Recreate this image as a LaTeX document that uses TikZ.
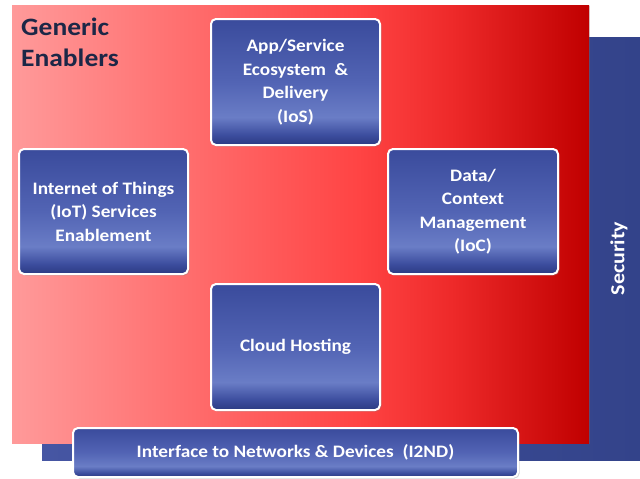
\documentclass[tikz,border=0pt]{standalone}
\usepackage{fontspec}
\setmainfont[FakeStretch=1.1]{Carlito}
\usetikzlibrary{shadows}

\definecolor{navytext}{HTML}{1C2747}
\definecolor{bbot}{HTML}{2B3A82}
\definecolor{bdark}{HTML}{3C4D9E}
\definecolor{blight}{HTML}{6A7DC6}
\definecolor{bmid}{HTML}{5264B4}
\definecolor{btop}{HTML}{3A4B9C}
\definecolor{rpale}{HTML}{FF9A9A}
\definecolor{rsoft}{HTML}{FF6E6E}
\definecolor{rbright}{HTML}{FF4444}
\definecolor{rstrong}{HTML}{EE2A2A}
\definecolor{rdeep}{HTML}{C00000}
\definecolor{secleft}{HTML}{4656A3}
\definecolor{secright}{HTML}{33438A}

% blue tiles: dark top, light band low down, dark bottom edge
\pgfdeclareverticalshading{tileblue}{100bp}{%
  color(0bp)=(bbot); color(25bp)=(bbot); color(29bp)=(bdark);
  color(36bp)=(blight); color(50bp)=(bmid); color(75bp)=(btop); color(100bp)=(btop)}
% red panel: pale pink on the left to deep red on the right
\pgfdeclarehorizontalshading{redpanel}{100bp}{%
  color(0bp)=(rpale); color(25bp)=(rpale); color(40bp)=(rsoft);
  color(55bp)=(rbright); color(63bp)=(rstrong); color(75bp)=(rdeep); color(100bp)=(rdeep)}
% security band
\pgfdeclarehorizontalshading{secpanel}{100bp}{%
  color(0bp)=(secleft); color(25bp)=(secleft); color(75bp)=(secright); color(100bp)=(secright)}

\tikzset{
  tile/.style={rectangle, rounded corners=5pt, draw=white, line width=2pt,
    shading=tileblue, drop shadow={shadow xshift=1.5pt, shadow yshift=-1.5pt, opacity=0.35},
    text=white, font=\bfseries\fontsize{17.5}{23.5}\selectfont, align=center, inner sep=2pt},
  panellabel/.style={inner sep=0pt, text=white, font=\bfseries\fontsize{20}{24}\selectfont},
}

\begin{document}
\begin{tikzpicture}[x=1pt, y=-1pt]
\useasboundingbox (0,0) rectangle (640,479);

% security layer behind everything
\path[shading=secpanel] (42,37) rectangle (640,460);
\node[panellabel, rotate=90] (security) at (619,258.5) {Security};

% generic enablers panel
\path[shading=redpanel, drop shadow={shadow xshift=1pt, shadow yshift=-1pt, opacity=0.3}]
  (12,5) rectangle (589,443);
\node[anchor=north west, inner sep=0pt, align=left, text=navytext,
      font=\bfseries\fontsize{25}{31}\selectfont] (ge) at (21,18) {Generic\\Enablers};

% enabler tiles
\node[tile, minimum width=169pt, minimum height=126pt] (ios) at (295.5,82)
  {App/Service\\Ecosystem \ \&\\Delivery\\(IoS)};
\node[tile, minimum width=169pt, minimum height=125pt] (iot) at (103.5,211.5)
  {Internet of Things\\(IoT) Services\\Enablement};
\node[tile, minimum width=170pt, minimum height=125pt] (ioc) at (473,211.5)
  {Data/\\Context\\Management\\(IoC)};
\node[tile, minimum width=169pt, minimum height=126pt] (cloud) at (295.5,347)
  {Cloud Hosting};
\node[tile, minimum width=445pt, minimum height=49pt] (i2nd) at (295.5,452.5)
  {Interface to Networks \& Devices \ (I2ND)};
\end{tikzpicture}
\end{document}
